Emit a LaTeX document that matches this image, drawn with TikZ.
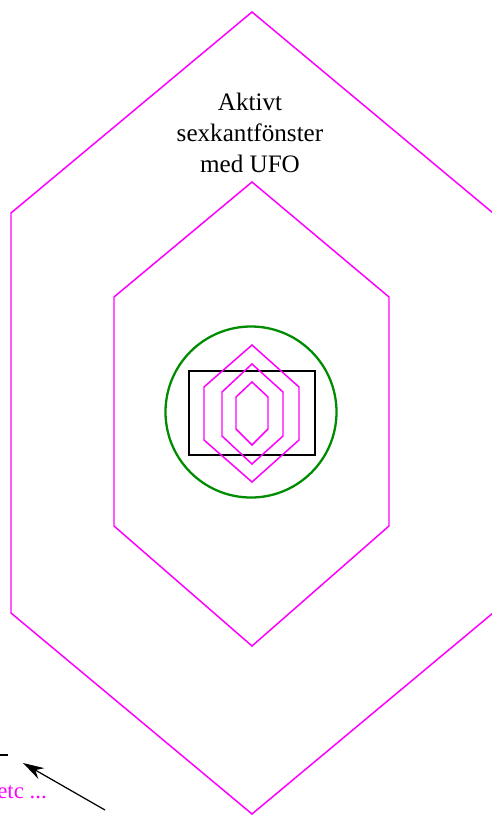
\documentclass[tikz,border=0pt]{standalone}
\usepackage{fontspec}
\setmainfont{Liberation Serif}
\usetikzlibrary{arrows.meta}
\definecolor{hexmag}{RGB}{255,0,255}
\definecolor{ufogreen}{RGB}{0,140,0}
\begin{document}
\begin{tikzpicture}[x=0.02cm, y=-0.02cm, >={Stealth[length=12pt,width=7pt]}]
            \useasboundingbox (0,0) rectangle (492,816);
            % hexagons
            \draw[hexmag, line width=0.85pt] (252,12) -- (11,213) -- (11,613) -- (252,814) -- (493,613) -- (493,213) -- cycle;
            \draw[hexmag, line width=0.85pt] (252,182) -- (114,297) -- (114,526) -- (252,646) -- (389,526) -- (389,297) -- cycle;
            \draw[ufogreen, line width=1.3pt] (251,412) circle (85.5);
            \draw[black, line width=0.6pt] (189,371) rectangle (315,455);
            \draw[hexmag, line width=0.85pt] (252,345) -- (204,387) -- (204,440) -- (252,482) -- (299,440) -- (299,387) -- cycle;
            \draw[hexmag, line width=0.85pt] (252,364) -- (222,392) -- (222,436) -- (252,464) -- (283,436) -- (283,392) -- cycle;
            \draw[hexmag, line width=0.85pt] (252,382) -- (236,397) -- (236,429) -- (252,445) -- (268,429) -- (268,397) -- cycle;
            \node[align=center, font=\fontsize{14.3}{17.8}\selectfont] (label) at (250,133) {Aktivt\\sexkantfönster\\med UFO};
            % cut-off bits, lower left
            \draw[black, line width=0.6pt] (0,755) -- (8,755);
            \node[anchor=base west, hexmag, inner sep=0pt, font=\fontsize{13}{15}\selectfont] (etc) at (-3,798) {etc ...};
            \coordinate (tail) at (105,810);
            \coordinate (tip) at (23,763);
            \draw[->, line width=0.7pt] (tail) -- (tip);
          \end{tikzpicture}
\end{document}
